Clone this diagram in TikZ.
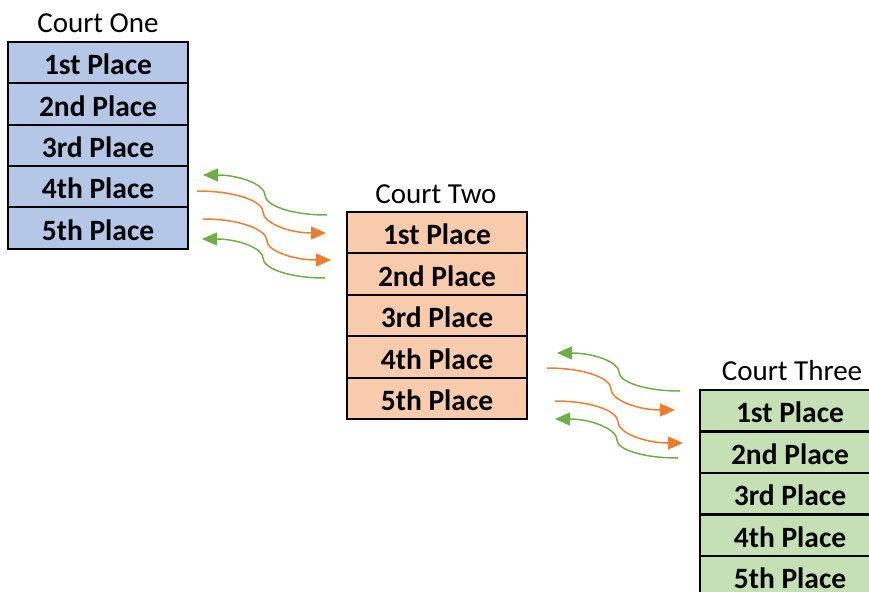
\documentclass[tikz,border=0pt]{standalone}
\usepackage{fontspec}
\setmainfont{Carlito}
\usetikzlibrary{arrows.meta,calc}
\definecolor{cblue}{HTML}{B4C7E7}
\definecolor{corange}{HTML}{F8CBAD}
\definecolor{cgreen}{HTML}{C5E0B4}
\definecolor{aorange}{HTML}{ED7D31}
\definecolor{agreen}{HTML}{70AD47}
\newcommand\wavearrow[4]{%
  \draw[#1,wave] (#2) .. controls ($(#2)!0.6!(#2-|#3)$) and ($(#3)!0.5!(#3|-#2)$) .. (#3)
    .. controls ($(#3)!0.5!(#3|-#4)$) and ($(#4)!0.6!(#4-|#3)$) .. (#4);}
\begin{document}
\begin{tikzpicture}[x=1pt,y=-1pt,
  rowbox/.style={draw=black,line width=2pt,minimum width=180pt,minimum height=41.3pt,
    inner sep=0pt,outer sep=0pt,anchor=north west,
    font=\fontsize{29.5}{32}\selectfont\bfseries,text height=24.5pt,text depth=0pt},
  courttitle/.style={anchor=base,inner sep=0pt,font=\fontsize{29}{32}\selectfont},
  wave/.style={line width=1.5pt,-{Triangle[length=15pt,width=13pt]}}]
\useasboundingbox (0,0) rectangle (869,591);
\clip (0,0) rectangle (869,591);
% Court One
\node[courttitle] (t1) at (98,33) {Court One};
\foreach \i/\l in {1/1st,2/2nd,3/3rd,4/4th,5/5th}
  \node[rowbox,fill=cblue] (a\i) at (8,{42+(\i-1)*41.3}) {\l\ Place};
% Court Two
\node[courttitle] (t2) at (436,203) {Court Two};
\foreach \i/\l in {1/1st,2/2nd,3/3rd,4/4th,5/5th}
  \node[rowbox,fill=corange] (b\i) at (347,{212+(\i-1)*41.4}) {\l\ Place};
% Court Three
\node[courttitle] (t3) at (792,380) {Court Three};
\foreach \i/\l in {1/1st,2/2nd,3/3rd,4/4th,5/5th}
  \node[rowbox,fill=cgreen] (c\i) at (700,{390+(\i-1)*41.5}) {\l\ Place};
% arrows between Court One and Court Two
\coordinate (g1s) at (327,215); \coordinate (g1m) at (265,195); \coordinate (g1e) at (203,175);
\coordinate (o1s) at (197,191); \coordinate (o1m) at (263,212); \coordinate (o1e) at (326,233);
\coordinate (o2s) at (203,219); \coordinate (o2m) at (267,241); \coordinate (o2e) at (331,260);
\coordinate (g2s) at (325,278); \coordinate (g2m) at (263,258); \coordinate (g2e) at (202,239);
\wavearrow{agreen}{g1s}{g1m}{g1e}
\wavearrow{aorange}{o1s}{o1m}{o1e}
\wavearrow{aorange}{o2s}{o2m}{o2e}
\wavearrow{agreen}{g2s}{g2m}{g2e}
% arrows between Court Two and Court Three
\coordinate (h1s) at (680,391); \coordinate (h1m) at (619,372); \coordinate (h1e) at (557,353);
\coordinate (p1s) at (547,368); \coordinate (p1m) at (611,389); \coordinate (p1e) at (675,410);
\coordinate (p2s) at (555,401); \coordinate (p2m) at (618,422); \coordinate (p2e) at (683,443);
\coordinate (h2s) at (678,458); \coordinate (h2m) at (617,440); \coordinate (h2e) at (555,419);
\wavearrow{agreen}{h1s}{h1m}{h1e}
\wavearrow{aorange}{p1s}{p1m}{p1e}
\wavearrow{aorange}{p2s}{p2m}{p2e}
\wavearrow{agreen}{h2s}{h2m}{h2e}
\end{tikzpicture}
\end{document}
